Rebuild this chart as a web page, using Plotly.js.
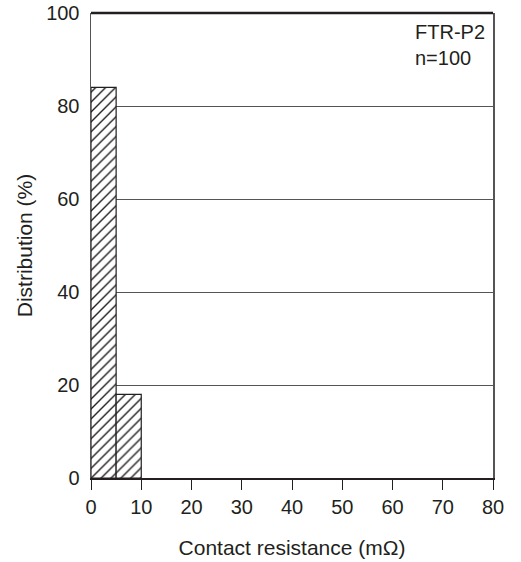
<!DOCTYPE html>
<html>
<head>
<meta charset="utf-8">
<script src="https://cdn.plot.ly/plotly-3.0.1.min.js"></script>
<style>body{margin:0;padding:0;background:#fff}</style>
</head>
<body>
<div id="chart" style="width:521px;height:562px"></div>
<script>
const binCenters = [2.5, 7.5];
const binWidths = [5, 5];
const distribution = [84, 18];
const annotationLines = ["FTR-P2", "n=100"];

const trace = {
  type: 'bar',
  x: binCenters,
  y: distribution,
  width: binWidths,
  marker: {
    color: '#ffffff',
    line: {color: '#231f20', width: 1.2},
    pattern: {shape: '/', fgcolor: '#231f20', bgcolor: '#ffffff', size: 7, solidity: 0.2}
  },
  hoverinfo: 'skip'
};

const layout = {
  width: 521, height: 562,
  margin: {l: 91, r: 28, t: 13, b: 84},
  paper_bgcolor: '#fff', plot_bgcolor: '#fff',
  showlegend: false,
  font: {family: 'Arial, Liberation Sans, sans-serif', size: 20, color: '#231f20'},
  xaxis: {
    range: [0, 80], tickvals: [0,10,20,30,40,50,60,70,80],
    ticks: 'outside', ticklen: 10, tickwidth: 1, tickcolor: '#231f20',
    showgrid: false, zeroline: false,
    showline: true, linecolor: '#231f20', linewidth: 1.5, mirror: false,
    tickfont: {size: 20},
    title: {text: 'Contact resistance (mΩ)', font: {size: 21}, standoff: 24}
  },
  yaxis: {
    range: [0, 100], tickvals: [0,20,40,60,80,100],
    ticks: '', showgrid: true, gridcolor: '#555', gridwidth: 1,
    zeroline: false, showline: true, linecolor: '#555', linewidth: 1.5, mirror: true,
    tickfont: {size: 20}, ticklabelstandoff: 6,
    title: {text: 'Distribution (%)', font: {size: 21}, standoff: 8}
  },
  shapes: [
    {type: 'line', xref: 'paper', yref: 'paper', x0: 0, x1: 1, y0: 1, y1: 1, line: {color: '#231f20', width: 2.5}}
  ],
  annotations: [
    {xref: 'paper', yref: 'paper', x: 0.8, y: 0.988, xanchor: 'left', yanchor: 'top', align: 'left',
     showarrow: false, text: annotationLines.join('<br>'), font: {size: 20, color: '#231f20'}}
  ]
};

Plotly.newPlot('chart', [trace], layout, {displayModeBar: false, staticPlot: true});
</script>
</body>
</html>
